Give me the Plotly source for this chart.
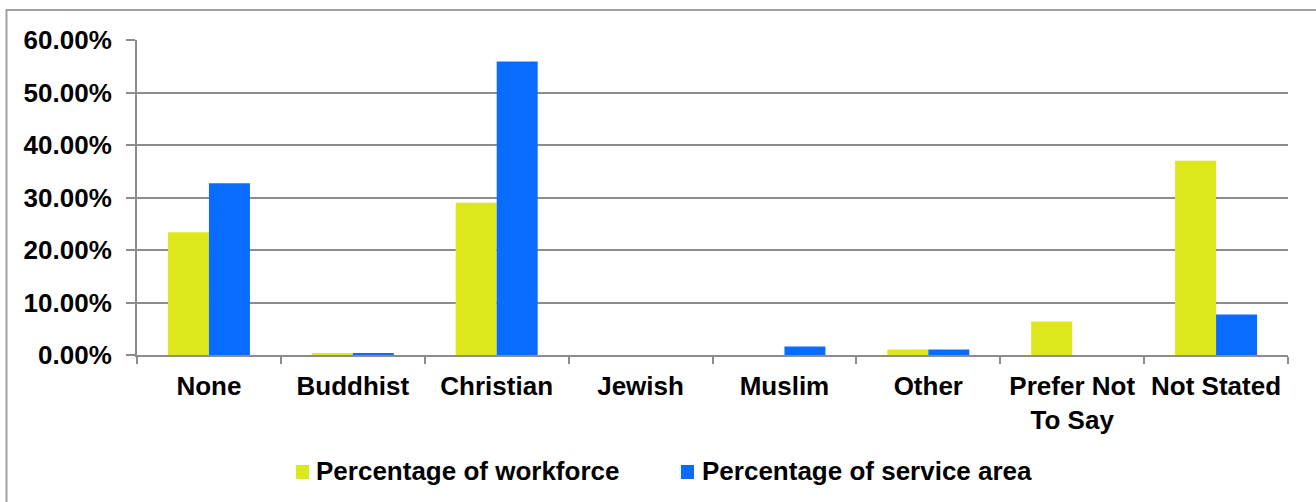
import plotly.graph_objects as go

# Religion categories and the two series (fractions of 1)
categories = ["None", "Buddhist", "Christian", "Jewish", "Muslim", "Other",
              "Prefer Not<br>To Say", "Not Stated"]
workforce = [0.234, 0.003, 0.290, 0.0, 0.0, 0.0105, 0.064, 0.370]
service_area = [0.327, 0.003, 0.559, 0.0, 0.016, 0.0105, 0.0, 0.077]
series_names = ["Percentage of workforce", "Percentage of service area"]
y_ticks = [0.0, 0.1, 0.2, 0.3, 0.4, 0.5, 0.6]

YELLOW = "#DCE81C"
BLUE = "#0A6CFF"
GRID = "#8C8C8C"
FONT = "Liberation Sans, Arial, sans-serif"
FS = 26

W, H = 1316, 502
L, R, T, B = 137, 28, 40, 147
pw, ph = W - L - R, H - T - B


def px_x(p):
    return (p - L) / pw


def px_y(p):
    return (H - B - p) / ph


fig = go.Figure()
fig.add_trace(go.Bar(x=categories, y=workforce, name=series_names[0],
                     marker=dict(color=YELLOW, line=dict(width=0))))
fig.add_trace(go.Bar(x=categories, y=service_area, name=series_names[1],
                     marker=dict(color=BLUE, line=dict(width=0))))

shapes = [
    # outer chart frame
    dict(type="rect", xref="paper", yref="paper",
         x0=px_x(6.5), x1=px_x(1330), y0=px_y(10), y1=px_y(520),
         line=dict(color="#A0A0A0", width=2), fillcolor="rgba(0,0,0,0)", layer="below"),
    # legend swatches
    dict(type="rect", xref="paper", yref="paper",
         x0=px_x(296), x1=px_x(309), y0=px_y(479), y1=px_y(465),
         line=dict(width=0), fillcolor=YELLOW),
    dict(type="rect", xref="paper", yref="paper",
         x0=px_x(681), x1=px_x(694), y0=px_y(479), y1=px_y(465),
         line=dict(width=0), fillcolor=BLUE),
]

annotations = [
    dict(xref="paper", yref="paper", x=px_x(314), y=px_y(471), xanchor="left",
         yanchor="middle", showarrow=False, text=series_names[0],
         font=dict(family=FONT, size=FS, color="black", weight="bold")),
    dict(xref="paper", yref="paper", x=px_x(700), y=px_y(471), xanchor="left",
         yanchor="middle", showarrow=False, text=series_names[1],
         font=dict(family=FONT, size=FS, color="black", weight="bold")),
]

fig.update_layout(
    width=W, height=H,
    margin=dict(l=L, r=R, t=T, b=B, pad=0),
    paper_bgcolor="white", plot_bgcolor="white",
    barmode="group", bargap=0.43, bargroupgap=0,
    showlegend=False,
    shapes=shapes, annotations=annotations,
    font=dict(family=FONT, size=FS, color="black"),
)

fig.update_yaxes(
    range=[0, 0.6], tickvals=y_ticks, tickformat=".2%",
    showgrid=True, gridcolor=GRID, gridwidth=2,
    showline=True, linecolor=GRID, linewidth=2,
    ticks="outside", ticklen=9, tickcolor=GRID, tickwidth=2,
    ticklabelstandoff=9,
    tickfont=dict(family=FONT, size=FS, color="black", weight="bold"),
    zeroline=False,
)
fig.update_xaxes(
    showline=True, linecolor=GRID, linewidth=2,
    ticks="outside", tickson="boundaries", ticklen=7, tickcolor=GRID, tickwidth=2,
    ticklabelstandoff=7,
    tickfont=dict(family=FONT, size=FS, color="black", weight="bold"),
)

fig.write_html("out.html")
